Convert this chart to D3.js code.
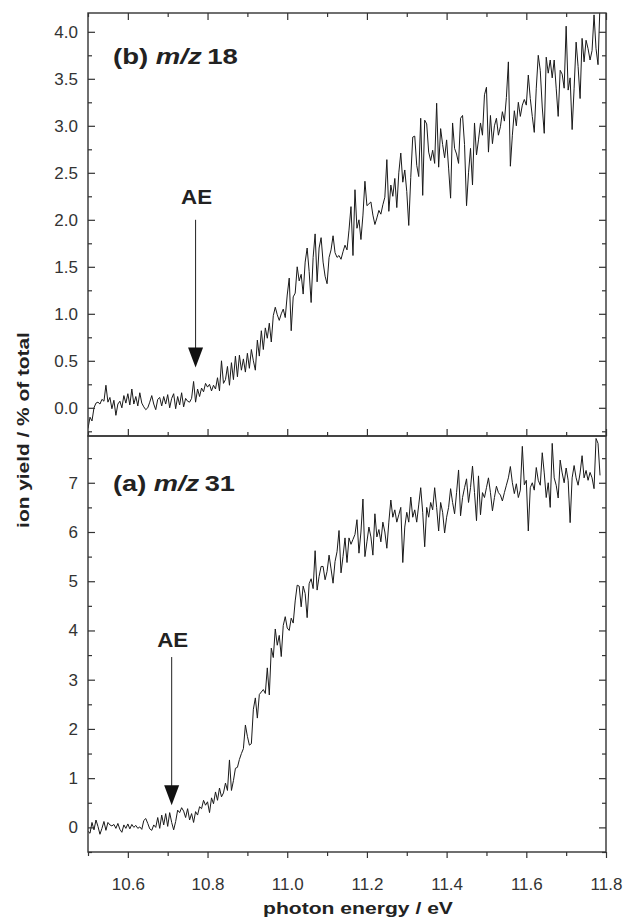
<!DOCTYPE html>
<html>
<head>
<meta charset="utf-8">
<script src="https://cdn.jsdelivr.net/npm/d3@7"></script>
<style>
body { margin: 0; background: #fff; }
text { font-family: "Liberation Sans", Arial, sans-serif; fill: #222; }
.tick text { font-size: 17px; fill: #333; }
.tick line { stroke: #333; stroke-width: 1.2; }
</style>
</head>
<body>
<script>
var w = 623;
var h = 921;
var left = 88, right = 606;
var topB = 13, split = 436, bottomA = 852;

// sampling grid of the spectra
var energyStart = 10.5;
var energyStep = 0.005;

// (b) m/z 18, ion yield in % of total
var yieldB = [
  -0.22, -0.10, -0.14, 0.00, 0.05, 0.06, 0.04, 0.09, 0.07, 0.24, 0.06, 0.11, -0.01, 0.08, -0.08, 0.04, 0.07, 0.00, 0.13, 0.05,
  0.15, 0.03, 0.20, 0.04, 0.12, 0.02, 0.16, 0.05, 0.01, -0.02, 0.00, 0.06, 0.13, 0.04, -0.02, 0.09, 0.11, 0.02, 0.12, 0.04,
  0.14, 0.00, 0.10, 0.15, -0.01, 0.12, 0.03, 0.16, 0.01, 0.10, 0.07, 0.06, 0.10, 0.28, 0.06, 0.20, 0.12, 0.21, 0.17, 0.26,
  0.22, 0.25, 0.18, 0.24, 0.20, 0.32, 0.18, 0.50, 0.26, 0.30, 0.44, 0.24, 0.48, 0.30, 0.55, 0.33, 0.56, 0.40, 0.52, 0.38,
  0.58, 0.42, 0.62, 0.50, 0.40, 0.72, 0.55, 0.82, 0.62, 0.85, 0.74, 0.90, 0.70, 0.98, 1.07, 0.99, 0.93, 1.00, 1.05, 0.96,
  1.20, 1.38, 0.82, 1.18, 1.22, 1.50, 1.35, 1.42, 1.21, 1.55, 1.70, 1.45, 1.12, 1.60, 1.85, 1.34, 1.70, 1.81, 1.55, 1.40,
  1.32, 1.60, 1.68, 1.83, 1.65, 1.60, 1.62, 1.58, 1.66, 1.73, 1.68, 1.89, 2.14, 1.62, 2.32, 1.91, 2.00, 1.79, 2.05, 2.41,
  2.15, 2.17, 2.19, 2.05, 1.95, 2.02, 2.10, 2.06, 2.16, 2.24, 2.64, 2.09, 2.37, 2.25, 2.44, 2.13, 2.50, 2.71, 2.40, 2.53,
  2.30, 1.94, 2.45, 2.88, 2.89, 2.58, 2.46, 3.08, 2.26, 3.06, 3.02, 2.72, 2.63, 2.74, 2.60, 3.24, 2.56, 2.97, 2.80, 2.66,
  2.85, 2.55, 2.23, 3.03, 2.76, 2.70, 2.60, 3.08, 3.11, 2.80, 2.15, 2.50, 2.76, 2.37, 3.03, 2.69, 2.85, 3.03, 2.90, 3.33,
  3.41, 2.72, 3.11, 2.81, 3.00, 3.08, 2.90, 2.99, 3.15, 3.05, 3.30, 3.68, 2.57, 2.90, 3.16, 3.00, 3.25, 3.10, 3.22, 3.28,
  3.22, 3.54, 3.29, 3.10, 2.93, 3.40, 3.75, 3.59, 3.20, 2.92, 3.73, 3.56, 3.70, 3.51, 3.70, 3.40, 3.10, 3.59, 3.55, 3.40,
  4.06, 3.38, 3.51, 2.96, 3.40, 3.89, 3.63, 3.29, 3.93, 3.68, 3.91, 3.82, 3.70, 3.80, 4.18, 3.82, 3.65, 4.30
];

// (a) m/z 31
var yieldA = [
  -0.08, -0.12, 0.10, -0.05, 0.15, 0.02, -0.14, -0.02, 0.12, -0.06, 0.10, 0.05, 0.03, 0.06, -0.02, 0.08, -0.04, -0.10, 0.05, -0.02,
  0.07, -0.03, 0.06, 0.00, 0.04, -0.02, 0.01, -0.04, 0.14, 0.18, 0.08, -0.03, -0.06, 0.05, 0.00, 0.20, -0.02, 0.25, 0.05, 0.28,
  0.02, 0.30, 0.10, -0.05, 0.12, 0.35, 0.30, 0.40, 0.33, 0.20, 0.38, 0.15, 0.28, 0.10, 0.32, 0.25, 0.42, 0.38, 0.55, 0.45,
  0.52, 0.30, 0.60, 0.48, 0.72, 0.55, 0.80, 0.62, 0.70, 0.90, 0.75, 1.37, 0.75, 0.95, 1.20, 1.22, 1.38, 1.50, 1.60, 2.08,
  1.85, 1.67, 1.70, 2.40, 2.63, 2.22, 2.70, 2.75, 2.80, 2.72, 3.24, 2.69, 3.64, 3.45, 4.03, 3.70, 3.90, 3.47, 4.10, 4.28,
  4.05, 4.00, 4.25, 4.15, 4.60, 4.92, 4.90, 4.48, 4.90, 4.75, 4.26, 4.95, 5.05, 4.85, 5.62, 4.82, 5.10, 5.30, 5.30, 5.03,
  5.20, 5.53, 5.25, 4.96, 5.40, 5.60, 6.03, 5.17, 5.50, 5.88, 5.38, 5.88, 5.75, 5.85, 5.95, 6.25, 5.57, 6.00, 6.67, 5.50,
  5.80, 6.10, 5.90, 5.53, 6.37, 5.90, 6.05, 5.80, 6.20, 6.00, 5.67, 6.20, 6.65, 6.30, 6.45, 6.20, 6.35, 6.50, 5.38, 6.10,
  6.40, 6.20, 6.71, 6.30, 6.45, 6.20, 6.55, 6.90, 6.40, 5.70, 6.50, 6.30, 6.60, 6.45, 6.90, 6.50, 6.02, 6.60, 6.40, 5.98,
  6.30, 6.50, 6.88, 6.60, 6.37, 6.80, 7.26, 6.33, 6.70, 6.90, 7.08, 6.60, 6.90, 7.34, 6.80, 6.23, 7.14, 6.35, 6.80, 6.70,
  6.90, 7.10, 6.80, 6.43, 6.70, 6.93, 6.80, 6.75, 6.63, 6.80, 6.95, 7.10, 7.33, 7.00, 6.78, 6.98, 6.70, 6.85, 7.74, 6.96,
  7.05, 6.02, 6.90, 7.00, 6.85, 7.31, 7.05, 6.95, 7.61, 7.20, 6.70, 7.00, 6.50, 7.80, 7.10, 6.95, 6.69, 7.46, 7.20, 7.00,
  7.30, 7.05, 6.19, 7.10, 7.35, 7.10, 6.95, 7.20, 7.55, 7.10, 7.25, 7.05, 7.21, 7.10, 6.88, 7.90, 7.80, 7.15
];

// ticks
var xTicks = [10.6, 10.8, 11.0, 11.2, 11.4, 11.6, 11.8];
var xMinor = [10.5, 10.7, 10.9, 11.1, 11.3, 11.5, 11.7];
var bTicks = [0, 0.5, 1, 1.5, 2, 2.5, 3, 3.5, 4];
var bMinor = [-0.25, 0.25, 0.75, 1.25, 1.75, 2.25, 2.75, 3.25, 3.75];
var aTicks = [0, 1, 2, 3, 4, 5, 6, 7];
var aMinor = [-0.5, 0.5, 1.5, 2.5, 3.5, 4.5, 5.5, 6.5, 7.5];

// appearance energies (eV) and arrow extent in y units
var aeB = {energy: 10.77, from: 2.0, to: 0.43};
var aeA = {energy: 10.71, from: 3.46, to: 0.45};

var svg = d3.select("body")
    .append("svg")
    .attr("width", w)
    .attr("height", h);

var xScale = d3.scaleLinear()
    .domain([10.5, 11.8])
    .range([left, right]);

var yB = d3.scaleLinear()
    .domain([-0.3, 4.2])
    .range([split, topB]);

var yA = d3.scaleLinear()
    .domain([-0.5, 7.95])
    .range([bottomA, split]);

function tidy(g) {
    g.select(".domain").remove();
}

// scale a text node horizontally so it spans the wanted width
function stretch(textSel, target) {
    var len = textSel.node().getComputedTextLength();
    textSel.attr("transform", "scale(" + (target / len) + ",1)");
}

function panel(name, yScale, ticks, minor, fmt, values, top, bottom, isBottom) {
    var g = svg.append("g");

    g.append("clipPath")
        .attr("id", "clip" + name)
        .append("rect")
        .attr("x", left).attr("y", top)
        .attr("width", right - left).attr("height", bottom - top);

    // line
    g.append("path")
        .datum(values)
        .attr("clip-path", "url(#clip" + name + ")")
        .attr("fill", "none")
        .attr("stroke", "#1a1a1a")
        .attr("stroke-width", 1)
        .attr("stroke-linejoin", "miter")
        .attr("d", d3.line()
            .x((d, i) => xScale(energyStart + i * energyStep))
            .y(d => yScale(d)));

    // left axis
    g.append("g")
        .attr("transform", "translate(" + left + ",0)")
        .call(d3.axisLeft(yScale).tickValues(ticks).tickSize(-7).tickPadding(10).tickFormat(fmt))
        .call(tidy);
    g.append("g")
        .attr("transform", "translate(" + left + ",0)")
        .call(d3.axisLeft(yScale).tickValues(minor).tickSize(-4).tickFormat(""))
        .call(tidy);

    // right axis
    g.append("g")
        .attr("transform", "translate(" + right + ",0)")
        .call(d3.axisRight(yScale).tickValues(ticks).tickSize(-7).tickFormat(""))
        .call(tidy);
    g.append("g")
        .attr("transform", "translate(" + right + ",0)")
        .call(d3.axisRight(yScale).tickValues(minor).tickSize(-4).tickFormat(""))
        .call(tidy);

    if (!isBottom) {
        g.append("g")
            .attr("transform", "translate(0," + top + ")")
            .call(d3.axisTop(xScale).tickValues(xTicks).tickSize(-7).tickFormat(""))
            .call(tidy);
        g.append("g")
            .attr("transform", "translate(0," + top + ")")
            .call(d3.axisTop(xScale).tickValues(xMinor).tickSize(-4).tickFormat(""))
            .call(tidy);
        g.append("g")
            .attr("transform", "translate(0," + bottom + ")")
            .call(d3.axisBottom(xScale).tickValues(xTicks).tickSize(-7).tickFormat(""))
            .call(tidy);
        g.append("g")
            .attr("transform", "translate(0," + bottom + ")")
            .call(d3.axisBottom(xScale).tickValues(xMinor).tickSize(-4).tickFormat(""))
            .call(tidy);
    } else {
        g.append("g")
            .attr("transform", "translate(0," + bottom + ")")
            .call(d3.axisBottom(xScale).tickValues(xTicks).tickSize(6).tickPadding(20).tickFormat(d3.format(".1f")))
            .call(tidy);
        g.append("g")
            .attr("transform", "translate(0," + bottom + ")")
            .call(d3.axisBottom(xScale).tickValues(xMinor).tickSize(4).tickFormat(""))
            .call(tidy);
    }

    // frame
    g.append("rect")
        .attr("x", left).attr("y", top)
        .attr("width", right - left).attr("height", bottom - top)
        .attr("fill", "none")
        .attr("stroke", "#333")
        .attr("stroke-width", 1.4);

    return g;
}

var gB = panel("B", yB, bTicks, bMinor, d3.format(".1f"), yieldB, topB, split, false);
var gA = panel("A", yA, aTicks, aMinor, d3.format("d"), yieldA, split, bottomA, true);

//panel titles
function title(letter, mass, x, y, width) {
    var g = svg.append("g").attr("transform", "translate(" + x + "," + y + ")");
    var t = g.append("text")
        .attr("font-size", 22)
        .attr("font-weight", "bold");
    t.append("tspan").text("(" + letter + ") ");
    t.append("tspan").attr("font-style", "italic").text("m/z");
    t.append("tspan").text("\u2009" + mass);
    stretch(t, width);
}
title("b", "18", 113, 64, 125);
title("a", "31", 113, 491, 122);

//AE arrows
function arrow(ae, yScale, labelY) {
    var ax = xScale(ae.energy);
    var tip = yScale(ae.to);
    svg.append("line")
        .attr("x1", ax).attr("x2", ax)
        .attr("y1", yScale(ae.from)).attr("y2", tip - 18)
        .attr("stroke", "#222")
        .attr("stroke-width", 1);
    svg.append("path")
        .attr("d", "M" + (ax - 7.5) + "," + (tip - 20) + "L" + (ax + 7.5) + "," + (tip - 20) + "L" + ax + "," + tip + "Z")
        .attr("fill", "#111");
    var g = svg.append("g").attr("transform", "translate(" + (ax + 1) + "," + labelY + ")");
    var t = g.append("text")
        .attr("text-anchor", "middle")
        .attr("font-size", 20)
        .attr("font-weight", "bold")
        .text("AE");
    stretch(t, 31);
}
arrow(aeB, yB, 204);
arrow(aeA, yA, 647);

//x axis title
var gx = svg.append("g").attr("transform", "translate(358,914)");
var tx = gx.append("text")
    .attr("text-anchor", "middle")
    .attr("font-size", 17)
    .attr("font-weight", "bold")
    .text("photon energy / eV");
stretch(tx, 190);

//y axis title
var gy = svg.append("g").attr("transform", "translate(29,430) rotate(-90)");
var ty = gy.append("text")
    .attr("text-anchor", "middle")
    .attr("font-size", 17)
    .attr("font-weight", "bold")
    .text("ion yield / % of total");
stretch(ty, 196);
</script>
</body>
</html>
